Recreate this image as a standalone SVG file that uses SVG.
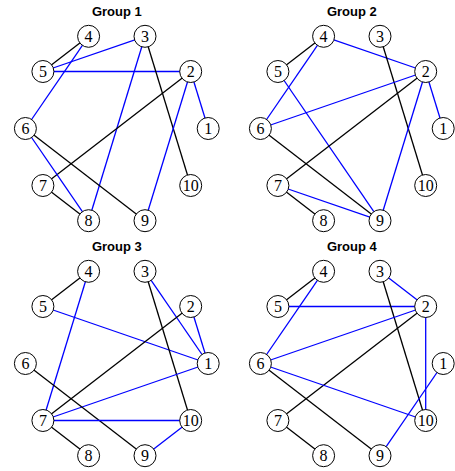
<svg xmlns="http://www.w3.org/2000/svg" width="455" height="471" viewBox="0 0 455 471">
  <style>
    .bg { fill: #ffffff; }
    .title { font-family: "Liberation Sans", Arial, sans-serif; font-weight: bold; font-size: 13px; fill: #000; text-anchor: middle; }
    .e { stroke-width: 1.3; fill: none; }
    .k { stroke: #000000; }
    .b { stroke: #0000ff; }
    .node circle { fill: #ffffff; stroke: #000000; stroke-width: 1; }
    .node text { font-family: "Liberation Serif", "Times New Roman", serif; font-size: 16px; fill: #000; text-anchor: middle; }
  </style>
  <rect class="bg" x="0" y="0" width="455" height="471"/>

  <!-- Panel 1 -->
  <g id="group1" transform="translate(0,0)">
    <text class="title" x="116.8" y="16">Group 1</text>
    <g id="g1-edges">
      <line class="e k" x1="88.6" y1="36.3" x2="42.9" y2="71.5"/>
      <line class="e b" x1="42.9" y1="71.5" x2="145.0" y2="36.3"/>
      <line class="e b" x1="42.9" y1="71.5" x2="190.7" y2="71.5"/>
      <line class="e b" x1="88.6" y1="36.3" x2="25.4" y2="128.5"/>
      <line class="e b" x1="145.0" y1="36.3" x2="88.6" y2="220.7"/>
      <line class="e k" x1="145.0" y1="36.3" x2="190.7" y2="185.5"/>
      <line class="e k" x1="190.7" y1="71.5" x2="42.9" y2="185.5"/>
      <line class="e b" x1="190.7" y1="71.5" x2="208.2" y2="128.5"/>
      <line class="e b" x1="190.7" y1="71.5" x2="145.0" y2="220.7"/>
      <line class="e b" x1="25.4" y1="128.5" x2="88.6" y2="220.7"/>
      <line class="e k" x1="25.4" y1="128.5" x2="145.0" y2="220.7"/>
      <line class="e k" x1="42.9" y1="185.5" x2="88.6" y2="220.7"/>
    </g>
    <g id="g1-n1" class="node"><circle cx="208.2" cy="128.5" r="11"/><text x="208.2" y="134">1</text></g>
    <g id="g1-n2" class="node"><circle cx="190.7" cy="71.5" r="11"/><text x="190.7" y="77">2</text></g>
    <g id="g1-n3" class="node"><circle cx="145.0" cy="36.3" r="11"/><text x="145.0" y="41.8">3</text></g>
    <g id="g1-n4" class="node"><circle cx="88.6" cy="36.3" r="11"/><text x="88.6" y="41.8">4</text></g>
    <g id="g1-n5" class="node"><circle cx="42.9" cy="71.5" r="11"/><text x="42.9" y="77">5</text></g>
    <g id="g1-n6" class="node"><circle cx="25.4" cy="128.5" r="11"/><text x="25.4" y="134">6</text></g>
    <g id="g1-n7" class="node"><circle cx="42.9" cy="185.5" r="11"/><text x="42.9" y="191">7</text></g>
    <g id="g1-n8" class="node"><circle cx="88.6" cy="220.7" r="11"/><text x="88.6" y="226.2">8</text></g>
    <g id="g1-n9" class="node"><circle cx="145.0" cy="220.7" r="11"/><text x="145.0" y="226.2">9</text></g>
    <g id="g1-n10" class="node"><circle cx="190.7" cy="185.5" r="11"/><text x="190.7" y="191">10</text></g>
  </g>

  <!-- Panel 2 -->
  <g id="group2" transform="translate(235,0)">
    <text class="title" x="116.8" y="16">Group 2</text>
    <g id="g2-edges">
      <line class="e k" x1="88.6" y1="36.3" x2="42.9" y2="71.5"/>
      <line class="e b" x1="88.6" y1="36.3" x2="190.7" y2="71.5"/>
      <line class="e b" x1="88.6" y1="36.3" x2="25.4" y2="128.5"/>
      <line class="e b" x1="42.9" y1="71.5" x2="145.0" y2="220.7"/>
      <line class="e k" x1="145.0" y1="36.3" x2="190.7" y2="185.5"/>
      <line class="e b" x1="190.7" y1="71.5" x2="25.4" y2="128.5"/>
      <line class="e k" x1="190.7" y1="71.5" x2="42.9" y2="185.5"/>
      <line class="e b" x1="190.7" y1="71.5" x2="208.2" y2="128.5"/>
      <line class="e b" x1="190.7" y1="71.5" x2="145.0" y2="220.7"/>
      <line class="e k" x1="25.4" y1="128.5" x2="145.0" y2="220.7"/>
      <line class="e b" x1="42.9" y1="185.5" x2="145.0" y2="220.7"/>
      <line class="e k" x1="42.9" y1="185.5" x2="88.6" y2="220.7"/>
    </g>
    <g id="g2-n1" class="node"><circle cx="208.2" cy="128.5" r="11"/><text x="208.2" y="134">1</text></g>
    <g id="g2-n2" class="node"><circle cx="190.7" cy="71.5" r="11"/><text x="190.7" y="77">2</text></g>
    <g id="g2-n3" class="node"><circle cx="145.0" cy="36.3" r="11"/><text x="145.0" y="41.8">3</text></g>
    <g id="g2-n4" class="node"><circle cx="88.6" cy="36.3" r="11"/><text x="88.6" y="41.8">4</text></g>
    <g id="g2-n5" class="node"><circle cx="42.9" cy="71.5" r="11"/><text x="42.9" y="77">5</text></g>
    <g id="g2-n6" class="node"><circle cx="25.4" cy="128.5" r="11"/><text x="25.4" y="134">6</text></g>
    <g id="g2-n7" class="node"><circle cx="42.9" cy="185.5" r="11"/><text x="42.9" y="191">7</text></g>
    <g id="g2-n8" class="node"><circle cx="88.6" cy="220.7" r="11"/><text x="88.6" y="226.2">8</text></g>
    <g id="g2-n9" class="node"><circle cx="145.0" cy="220.7" r="11"/><text x="145.0" y="226.2">9</text></g>
    <g id="g2-n10" class="node"><circle cx="190.7" cy="185.5" r="11"/><text x="190.7" y="191">10</text></g>
  </g>

  <!-- Panel 3 -->
  <g id="group3" transform="translate(0,235)">
    <text class="title" x="116.8" y="16">Group 3</text>
    <g id="g3-edges">
      <line class="e k" x1="88.6" y1="36.3" x2="42.9" y2="71.5"/>
      <line class="e b" x1="88.6" y1="36.3" x2="42.9" y2="185.5"/>
      <line class="e b" x1="42.9" y1="71.5" x2="208.2" y2="128.5"/>
      <line class="e b" x1="145.0" y1="36.3" x2="208.2" y2="128.5"/>
      <line class="e k" x1="145.0" y1="36.3" x2="190.7" y2="185.5"/>
      <line class="e b" x1="190.7" y1="71.5" x2="208.2" y2="128.5"/>
      <line class="e k" x1="190.7" y1="71.5" x2="42.9" y2="185.5"/>
      <line class="e b" x1="208.2" y1="128.5" x2="42.9" y2="185.5"/>
      <line class="e k" x1="25.4" y1="128.5" x2="145.0" y2="220.7"/>
      <line class="e b" x1="42.9" y1="185.5" x2="190.7" y2="185.5"/>
      <line class="e k" x1="42.9" y1="185.5" x2="88.6" y2="220.7"/>
      <line class="e b" x1="190.7" y1="185.5" x2="145.0" y2="220.7"/>
    </g>
    <g id="g3-n1" class="node"><circle cx="208.2" cy="128.5" r="11"/><text x="208.2" y="134">1</text></g>
    <g id="g3-n2" class="node"><circle cx="190.7" cy="71.5" r="11"/><text x="190.7" y="77">2</text></g>
    <g id="g3-n3" class="node"><circle cx="145.0" cy="36.3" r="11"/><text x="145.0" y="41.8">3</text></g>
    <g id="g3-n4" class="node"><circle cx="88.6" cy="36.3" r="11"/><text x="88.6" y="41.8">4</text></g>
    <g id="g3-n5" class="node"><circle cx="42.9" cy="71.5" r="11"/><text x="42.9" y="77">5</text></g>
    <g id="g3-n6" class="node"><circle cx="25.4" cy="128.5" r="11"/><text x="25.4" y="134">6</text></g>
    <g id="g3-n7" class="node"><circle cx="42.9" cy="185.5" r="11"/><text x="42.9" y="191">7</text></g>
    <g id="g3-n8" class="node"><circle cx="88.6" cy="220.7" r="11"/><text x="88.6" y="226.2">8</text></g>
    <g id="g3-n9" class="node"><circle cx="145.0" cy="220.7" r="11"/><text x="145.0" y="226.2">9</text></g>
    <g id="g3-n10" class="node"><circle cx="190.7" cy="185.5" r="11"/><text x="190.7" y="191">10</text></g>
  </g>

  <!-- Panel 4 -->
  <g id="group4" transform="translate(235,235)">
    <text class="title" x="116.8" y="16">Group 4</text>
    <g id="g4-edges">
      <line class="e k" x1="88.6" y1="36.3" x2="42.9" y2="71.5"/>
      <line class="e b" x1="88.6" y1="36.3" x2="25.4" y2="128.5"/>
      <line class="e b" x1="42.9" y1="71.5" x2="190.7" y2="71.5"/>
      <line class="e b" x1="145.0" y1="36.3" x2="190.7" y2="71.5"/>
      <line class="e k" x1="145.0" y1="36.3" x2="190.7" y2="185.5"/>
      <line class="e b" x1="190.7" y1="71.5" x2="25.4" y2="128.5"/>
      <line class="e k" x1="190.7" y1="71.5" x2="42.9" y2="185.5"/>
      <line class="e b" x1="190.7" y1="71.5" x2="190.7" y2="185.5"/>
      <line class="e b" x1="25.4" y1="128.5" x2="190.7" y2="185.5"/>
      <line class="e k" x1="25.4" y1="128.5" x2="145.0" y2="220.7"/>
      <line class="e b" x1="208.2" y1="128.5" x2="145.0" y2="220.7"/>
      <line class="e k" x1="42.9" y1="185.5" x2="88.6" y2="220.7"/>
    </g>
    <g id="g4-n1" class="node"><circle cx="208.2" cy="128.5" r="11"/><text x="208.2" y="134">1</text></g>
    <g id="g4-n2" class="node"><circle cx="190.7" cy="71.5" r="11"/><text x="190.7" y="77">2</text></g>
    <g id="g4-n3" class="node"><circle cx="145.0" cy="36.3" r="11"/><text x="145.0" y="41.8">3</text></g>
    <g id="g4-n4" class="node"><circle cx="88.6" cy="36.3" r="11"/><text x="88.6" y="41.8">4</text></g>
    <g id="g4-n5" class="node"><circle cx="42.9" cy="71.5" r="11"/><text x="42.9" y="77">5</text></g>
    <g id="g4-n6" class="node"><circle cx="25.4" cy="128.5" r="11"/><text x="25.4" y="134">6</text></g>
    <g id="g4-n7" class="node"><circle cx="42.9" cy="185.5" r="11"/><text x="42.9" y="191">7</text></g>
    <g id="g4-n8" class="node"><circle cx="88.6" cy="220.7" r="11"/><text x="88.6" y="226.2">8</text></g>
    <g id="g4-n9" class="node"><circle cx="145.0" cy="220.7" r="11"/><text x="145.0" y="226.2">9</text></g>
    <g id="g4-n10" class="node"><circle cx="190.7" cy="185.5" r="11"/><text x="190.7" y="191">10</text></g>
  </g>
</svg>
